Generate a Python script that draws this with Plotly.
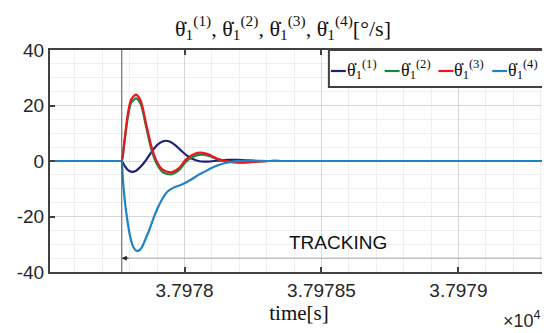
import plotly.graph_objects as go

# ---------------- data ----------------
t_start = 37977.509
t_end = 37979.327
tracking_start = 37977.771
tracking_arrow_y = -35
tracking_label_t = 37978.56
tracking_label_y = -29.5

# pixel-read sample positions are converted to seconds: t = 37978 + (x-177)/275
def px2t(x):
    return 37978 + (x - 177) / 275.0

x_navy = [42, 70, 95, 105, 110, 112, 113, 114, 117, 120, 124, 128, 132, 136, 140, 145, 150, 155, 158, 162, 168, 174, 180, 186, 192, 200, 210, 220, 230, 240, 255, 270, 300, 350, 420, 480, 542]
v_navy = [0, 0, 0, 0, 0, 0, 0, 0, -1.8, -3.2, -3.9, -3.6, -2.4, -0.8, 1.2, 3.8, 5.9, 7.0, 7.3, 7.0, 5.6, 3.6, 1.8, 0.6, -0.1, -0.2, 0.1, 0.4, 0.4, 0.2, 0, 0, 0, 0, 0, 0, 0]

x_green = [42, 70, 95, 105, 110, 112, 113, 114, 116.7, 120, 123.3, 128.5, 133.3, 138.3, 143.3, 148.3, 155, 163.3, 171.7, 178.3, 186.7, 193.5, 201.7, 210, 220, 233, 247, 262, 280, 320, 380, 450, 542]
v_green = [0, 0, 0, 0, 0, 0, 0, 0, 6.6, 15.6, 20.9, 22.6, 20.3, 12.6, 4.8, -0.4, -4.0, -4.8, -3.2, -0.3, 1.7, 2.3, 1.8, 0.6, -0.2, -0.6, -0.3, 0, 0, 0, 0, 0, 0]

x_red = [42, 70, 95, 105, 110, 112, 113, 114, 116.7, 120, 123.3, 128.3, 133.3, 138.3, 143.3, 148.3, 155, 163.3, 171.7, 178.3, 186.7, 193.3, 201.7, 210, 220, 233, 247, 262, 280, 320, 380, 450, 542]
v_red = [0, 0, 0, 0, 0, 0, 0, 0, 7.2, 16.7, 22.1, 23.9, 21.5, 13.7, 5.9, 0.5, -3.1, -4.1, -2.5, 0.5, 2.5, 3.0, 2.3, 0.8, -0.1, -0.5, -0.3, 0, 0, 0, 0, 0, 0]

x_blue = [42, 70, 95, 105, 110, 112, 113, 114, 115, 117, 119.5, 122, 125, 128, 131, 134, 138, 142, 146, 150, 155, 160, 166, 172, 178, 185, 192, 200, 208, 216, 226, 240, 260, 280, 320, 380, 450, 542]
v_blue = [0, 0, 0, 0, 0, 0, 0, 0, -6, -14, -21, -26.5, -30.5, -32.2, -32.3, -31.2, -28, -24.5, -20.5, -17, -13.5, -11, -9.6, -8.8, -7.8, -6.4, -4.8, -3.3, -1.9, -0.9, -0.2, 0.1, 0, 0, 0, 0, 0, 0]

names = ["θ̇<sub>1</sub><sup>(1)</sup>", "θ̇<sub>1</sub><sup>(2)</sup>",
         "θ̇<sub>1</sub><sup>(3)</sup>", "θ̇<sub>1</sub><sup>(4)</sup>"]
colors = ["#1f1f7a", "#15893a", "#ec1620", "#1f84c6"]

x_tickvals = [37978, 37978.5, 37979]
x_ticktext = ["3.7978", "3.79785", "3.7979"]
y_tickvals = [-40, -20, 0, 20, 40]
y_ticktext = ["-40", "-20", "0", "20", "40"]

series = [(x_navy, v_navy), (x_green, v_green), (x_red, v_red), (x_blue, v_blue)]

fig = go.Figure()
for (xs, vs), nm, col in zip(series, names, colors):
    fig.add_trace(go.Scatter(
        x=[px2t(x) for x in xs], y=vs, mode="lines", name=nm, showlegend=False,
        line=dict(color=col, width=2.2, shape="spline", smoothing=0.7),
    ))

serif = "Liberation Serif, DejaVu Serif, serif"
sans = "Liberation Sans, Arial, sans-serif"
frame = "#404040"

fig.update_layout(
    width=550, height=333,
    margin=dict(l=42, r=8, t=42, b=69),
    paper_bgcolor="white", plot_bgcolor="white",
    title=dict(text="θ̇<sub>1</sub><sup>(1)</sup>, θ̇<sub>1</sub><sup>(2)</sup>, θ̇<sub>1</sub><sup>(3)</sup>, θ̇<sub>1</sub><sup>(4)</sup>[°/s]",
               x=0.5, xanchor="center", y=0.94, yanchor="middle",
               font=dict(family=serif, size=22, color="#111")),
    showlegend=False,
    xaxis=dict(range=[t_start, t_end], tickmode="array", tickvals=x_tickvals, ticktext=x_ticktext,
               showline=True, linecolor=frame, linewidth=2, mirror="ticks",
               ticks="inside", ticklen=5, tickwidth=2, tickcolor=frame,
               showgrid=True, gridcolor="#d6d6d6", gridwidth=1, zeroline=False,
               minor=dict(dtick=0.1, tick0=37978, showgrid=True, gridcolor="#efefef", ticks=""),
               tickfont=dict(family=sans, size=19, color="#262626"),
               title=dict(text="time[s]", font=dict(family=serif, size=21, color="#111"), standoff=2)),
    yaxis=dict(range=[-40, 40], tickmode="array", tickvals=y_tickvals, ticktext=y_ticktext,
               showline=True, linecolor=frame, linewidth=2, mirror="ticks",
               ticks="inside", ticklen=5, tickwidth=2, tickcolor=frame,
               showgrid=True, gridcolor="#d6d6d6", gridwidth=1, zeroline=False,
               minor=dict(dtick=5, showgrid=True, gridcolor="#efefef", ticks=""),
               tickfont=dict(family=sans, size=19, color="#262626")),
)

# tracking marker: vertical line, arrow and label
fig.add_shape(type="line", xref="x", yref="paper", x0=tracking_start, x1=tracking_start, y0=0, y1=1,
              line=dict(color="#555555", width=1))
fig.add_shape(type="line", xref="x", yref="y", x0=tracking_start, x1=t_end, y0=tracking_arrow_y, y1=tracking_arrow_y,
              line=dict(color="#a8a8a8", width=1))
fig.add_annotation(x=tracking_start, y=tracking_arrow_y, ax=tracking_start + 0.03, ay=tracking_arrow_y,
                   xref="x", yref="y", axref="x", ayref="y", text="", showarrow=True,
                   arrowhead=2, arrowsize=1, arrowwidth=1, arrowcolor="#222")
fig.add_annotation(x=tracking_label_t, y=tracking_label_y, xref="x", yref="y", text="TRACKING",
                   showarrow=False, font=dict(family=sans, size=19, color="#111"))
fig.add_annotation(x=0.99, y=-0.275, xref="paper", yref="paper", xanchor="right", yanchor="bottom",
                   text="×10<sup>4</sup>", showarrow=False, font=dict(family=sans, size=18, color="#262626"))

# legend box (top right, inside the axes)
plot_l, plot_w, plot_b, plot_h = 42, 500, 264, 222
def px(x):
    return (x - plot_l) / plot_w
def py(y):
    return (plot_b - y) / plot_h

fig.add_shape(type="rect", xref="paper", yref="paper", x0=px(322), x1=1.0, y0=py(79), y1=1.0,
              line=dict(color=frame, width=2), fillcolor="white", layer="above")
for i, (nm, col) in enumerate(zip(names, colors)):
    x0 = 324 + i * 54
    fig.add_shape(type="line", xref="paper", yref="paper", x0=px(x0), x1=px(x0 + 15),
                  y0=py(63), y1=py(63), line=dict(color=col, width=2.2), layer="above")
    fig.add_annotation(x=px(x0 + 15), y=py(62), xref="paper", yref="paper", xanchor="left", yanchor="middle",
                       text=nm, showarrow=False, borderpad=0,
                       font=dict(family=serif, size=18, color="#111"))

fig.write_html("out.html")
